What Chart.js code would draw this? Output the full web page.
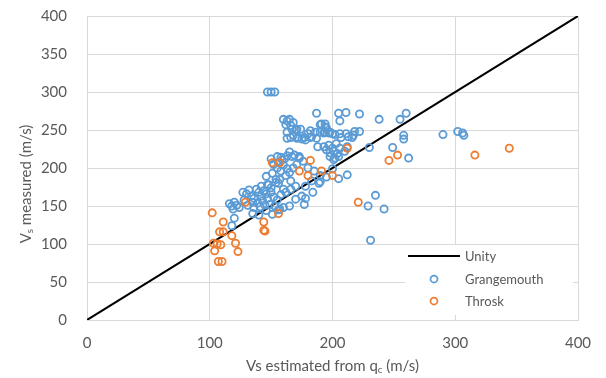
<!DOCTYPE html>
<html>
<head>
<meta charset="utf-8">
<script src="https://cdn.jsdelivr.net/npm/chart.js@4"></script>
<style>
  html, body { margin: 0; padding: 0; background: #fff; }
  #wrap { width: 606px; height: 378px; position: relative; }
</style>
</head>
<body>
<div id="wrap"><canvas id="myChart"></canvas></div>
<script>
// axis range / ticks
const axisMin = 0;
const axisMax = 400;
const xStep = 100;
const yStep = 50;

// series labels
const seriesNames = ['Unity', 'Grangemouth', 'Throsk'];

// unity line end points
const unity = [[0, 0], [400, 400]];

// Grangemouth [Vs estimated, Vs measured]
const grangemouth = [
  [116,153],[118,150],[120,155],[119,146],[122,151],[120,134],[118,124],[124,148],
  [127,168],[130,166],[132,171],[134,163],[136,160],[138,172],[140,168],[142,163],
  [144,170],[146,166],[135,155],[139,154],[143,157],[147,160],[150,168],[152,162],
  [155,158],[128,158],[131,151],[136,148],[141,149],[145,151],[149,152],[153,150],
  [157,146],[135,140],[140,138],[146,144],[151,139],[156,145],[160,148],[165,150],
  [170,159],[177,152],[158,165],[162,168],[166,172],[142,176],[147,178],[150,174],
  [154,181],[157,185],
  [146,189],[151,193],[155,200],[159,211],[167,215],[173,213],[154,185],[148,178],
  [156,180],[160,172],[166,183],[170,176],[178,176],[175,163],[183,183],[189,180],
  [150,212],[155,215],[158,214],[161,212],[163,216],[156,207],[160,204],[163,199],
  [152,205],[158,196],[162,190],[165,194],[168,200],[171,205],[176,209],
  [165,221],[169,217],[173,215],
  [180,200],[185,196],[190,190],[195,188],[200,199],[212,191],[205,186],[190,182],
  [184,168],[178,160],
  [160,264],[165,264],[163,262],[168,260],[166,256],[162,257],[171,251],[174,251],
  [167,251],[170,250],[163,247],[163,239],[166,240],[168,243],[171,239],[175,238],
  [178,237],[172,240],[177,240],[180,245],[182,240],[182,249],[183,241],[186,247],
  [187,239],[190,247],[190,257],[191,258],[194,258],[194,254],[195,253],[194,247],
  [193,246],[197,246],[198,247],[200,245],[202,244],[206,245],[207,240],[211,245],
  [213,241],[216,240],[217,243],[218,248],[222,248],
  [147,300],[150,300],[153,300],
  [187,272],[205,272],[211,273],[206,262],[222,271],[238,264],[255,264],[260,272],
  [188,228],[193,228],[197,230],[195,224],[198,220],[201,222],[202,213],[205,215],
  [201,211],[198,215],[200,226],[204,219],[206,226],[212,228],[210,222],[203,232],
  [230,227],[249,227],[258,243],[258,238],[262,213],[290,244],[302,248],[306,246],[307,243],
  [229,150],[235,164],[242,146],[231,105]
];

// Throsk [Vs estimated, Vs measured]
const throsk = [
  [102,141],[111,129],[108,116],[111,116],[118,111],[103,101],[106,100],[109,99],
  [121,101],[123,90],[104,91],[107,77],[110,77],[129,155],[144,129],[144,118],
  [145,117],[156,140],[151,207],[157,207],[173,196],[180,190],[182,210],[191,196],
  [200,190],[212,226],[221,155],[246,210],[253,217],[316,217],[344,226]
];

const blue = '#5b9bd5';
const orange = '#ed7d31';
const textGrey = '#595959';
const gridGrey = '#d9d9d9';
const fontFam = 'Lato, "Open Sans", sans-serif';

const toPts = (arr) => arr.map(p => ({ x: p[0], y: p[1] }));

// draws mixed normal/subscript text centred on 0,0
function drawParts(ctx, parts, size) {
  let w = 0;
  parts.forEach(p => {
    ctx.font = (p.sub ? size * 0.65 : size) + 'px ' + fontFam;
    p.w = ctx.measureText(p.t).width;
    w += p.w;
  });
  let x = -w / 2;
  parts.forEach(p => {
    ctx.font = (p.sub ? size * 0.65 : size) + 'px ' + fontFam;
    ctx.fillText(p.t, x, p.sub ? size * 0.28 : 0);
    x += p.w;
  });
}

const titlesPlugin = {
  id: 'titles',
  afterDraw: (chart) => {
    const ctx = chart.ctx;
    const area = chart.chartArea;
    ctx.save();
    ctx.fillStyle = textGrey;
    ctx.textBaseline = 'middle';
    ctx.textAlign = 'left';
    // x title
    ctx.save();
    ctx.translate((area.left + area.right) / 2, area.bottom + 46);
    drawParts(ctx, [{ t: 'Vs estimated from q' }, { t: 'c', sub: true }, { t: ' (m/s)' }], 15);
    ctx.restore();
    // y title
    ctx.save();
    ctx.translate(area.left - 61, (area.top + area.bottom) / 2 + 16);
    ctx.rotate(-Math.PI / 2);
    drawParts(ctx, [{ t: 'V' }, { t: 's', sub: true }, { t: ' measured (m/s)' }], 15);
    ctx.restore();
    ctx.restore();
  }
};

const legendPlugin = {
  id: 'boxLegend',
  afterDraw: (chart) => {
    const ctx = chart.ctx;
    const area = chart.chartArea;
    const left = area.right - 173;
    const top = area.bottom - 75;
    ctx.save();
    ctx.fillStyle = '#fff';
    ctx.fillRect(left, top, 168, 70);
    ctx.font = '13px ' + fontFam;
    ctx.textBaseline = 'middle';
    ctx.textAlign = 'left';
    const rows = [top + 11, top + 34, top + 56];
    chart.data.datasets.forEach((ds, i) => {
      const y = rows[i];
      if (ds.showLine) {
        ctx.strokeStyle = ds.borderColor;
        ctx.lineWidth = 2;
        ctx.beginPath();
        ctx.moveTo(left + 3, y);
        ctx.lineTo(left + 55, y);
        ctx.stroke();
      } else {
        ctx.strokeStyle = ds.borderColor;
        ctx.lineWidth = 1.75;
        ctx.beginPath();
        ctx.arc(left + 29, y, 3.5, 0, Math.PI * 2);
        ctx.stroke();
      }
      ctx.fillStyle = textGrey;
      ctx.fillText(ds.label, left + 60, y + 1);
    });
    ctx.restore();
  }
};

const ctx1 = document.getElementById('myChart');

let data = {
  datasets: [
    {
      label: seriesNames[0],
      data: toPts(unity),
      showLine: true,
      borderColor: '#000000',
      borderWidth: 2,
      pointRadius: 0,
      order: 3
    },
    {
      label: seriesNames[1],
      data: toPts(grangemouth),
      borderColor: blue,
      backgroundColor: 'rgba(0,0,0,0)',
      pointRadius: 3.6,
      pointBorderWidth: 1.8,
      order: 2
    },
    {
      label: seriesNames[2],
      data: toPts(throsk),
      borderColor: orange,
      backgroundColor: 'rgba(0,0,0,0)',
      pointRadius: 3.6,
      pointBorderWidth: 1.8,
      order: 1
    }
  ]
};

let options = {
  responsive: true,
  maintainAspectRatio: false,
  animation: false,
  devicePixelRatio: 1,
  layout: { padding: { top: 16, right: 28, left: 0, bottom: 0 } },
  plugins: {
    legend: { display: false },
    tooltip: { enabled: false }
  },
  scales: {
    x: {
      type: 'linear',
      min: axisMin,
      max: axisMax,
      afterFit: (s) => { s.height = 58; },
      ticks: {
        stepSize: xStep,
        color: textGrey,
        padding: 14,
        font: { family: fontFam, size: 15 }
      },
      grid: { color: gridGrey, lineWidth: 1, drawTicks: false },
      border: { color: gridGrey }
    },
    y: {
      type: 'linear',
      min: axisMin,
      max: axisMax,
      afterFit: (s) => { s.width = 87; },
      ticks: {
        stepSize: yStep,
        color: textGrey,
        padding: 3,
        font: { family: fontFam, size: 15 }
      },
      // invisible tick marks just push labels away from the axis
      grid: { color: gridGrey, lineWidth: 1, drawTicks: true, tickLength: 17, tickColor: 'rgba(0,0,0,0)' },
      border: { color: gridGrey }
    }
  }
};

var myChart = new Chart(ctx1, {
  type: 'scatter',
  data: data,
  options: options,
  plugins: [titlesPlugin, legendPlugin]
});
</script>
</body>
</html>
